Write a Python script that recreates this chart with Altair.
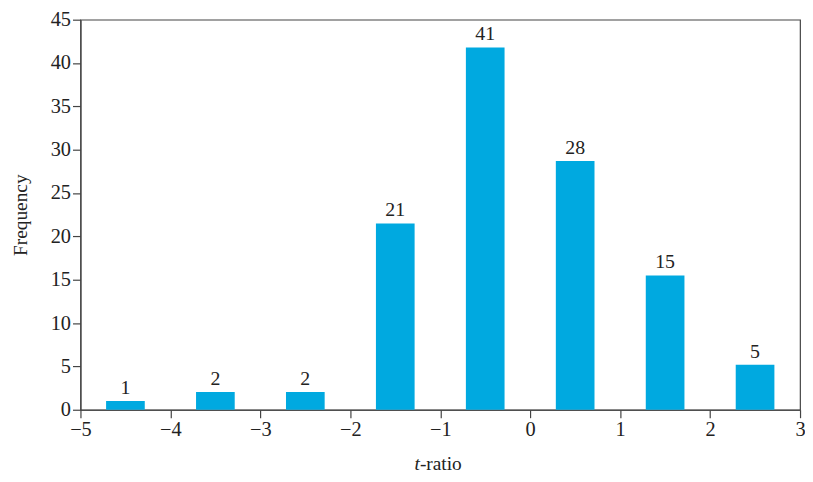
import altair as alt
import pandas as pd

centers = [-4.5, -3.5, -2.5, -1.5, -0.5, 0.5, 1.5, 2.5]
heights = [1.0, 2.05, 2.05, 21.5, 41.8, 28.7, 15.5, 5.2]
counts = ["1", "2", "2", "21", "41", "28", "15", "5"]

df = pd.DataFrame({"center": centers, "height": heights, "label": counts})

FONT = "Liberation Serif"
COLOR = "#00a9e0"

base = alt.Chart(df).transform_calculate(
    lo="datum.center - 0.215", hi="datum.center + 0.215"
)

xscale = alt.Scale(domain=[-5, 3], nice=False, zero=False)
yscale = alt.Scale(domain=[0, 45], nice=False)

bars = base.mark_bar(color=COLOR).encode(
    x=alt.X("lo:Q", scale=xscale, title=None,
            axis=alt.Axis(values=list(range(-5, 4)), grid=False, format="d")),
    x2="hi:Q",
    y=alt.Y("height:Q", scale=yscale, title="Frequency",
            axis=alt.Axis(values=list(range(0, 46, 5)), grid=False, format="d", titlePadding=20)),
    y2=alt.datum(0),
)

labels = base.mark_text(font=FONT, fontSize=20, baseline="bottom", dy=-3, color="#222").encode(
    x="center:Q", y="height:Q", text="label:N"
)

t_it = alt.Chart(pd.DataFrame({"t": ["t"]})).mark_text(
    font=FONT, fontSize=19.5, fontStyle="italic", align="right", baseline="middle", color="#222"
).encode(x=alt.value(342), y=alt.value(448), text="t:N")
t_rest = alt.Chart(pd.DataFrame({"t": ["-ratio"]})).mark_text(
    font=FONT, fontSize=19.5, align="left", baseline="middle", color="#222"
).encode(x=alt.value(342), y=alt.value(448), text="t:N")

chart = alt.layer(bars, labels, t_it, t_rest).properties(
    width=725, height=393,
    autosize=alt.AutoSizeParams(type="none"),
    padding={"left": 73, "top": 10, "right": 5, "bottom": 68},
).configure_view(
    stroke="#444", strokeWidth=1.2
).configure_axis(
    labelFont=FONT, titleFont=FONT, labelFontSize=20.5, titleFontSize=19.5,
    labelColor="#222", titleColor="#222", titleFontWeight="normal",
    domainColor="#444", tickColor="#444", tickSize=8, labelPadding=2,
    domainWidth=1.2, tickWidth=1.2, labelFlush=False, labelOverlap=False,
)

chart.save("out.html", embed_options={"renderer": "svg", "actions": False})
